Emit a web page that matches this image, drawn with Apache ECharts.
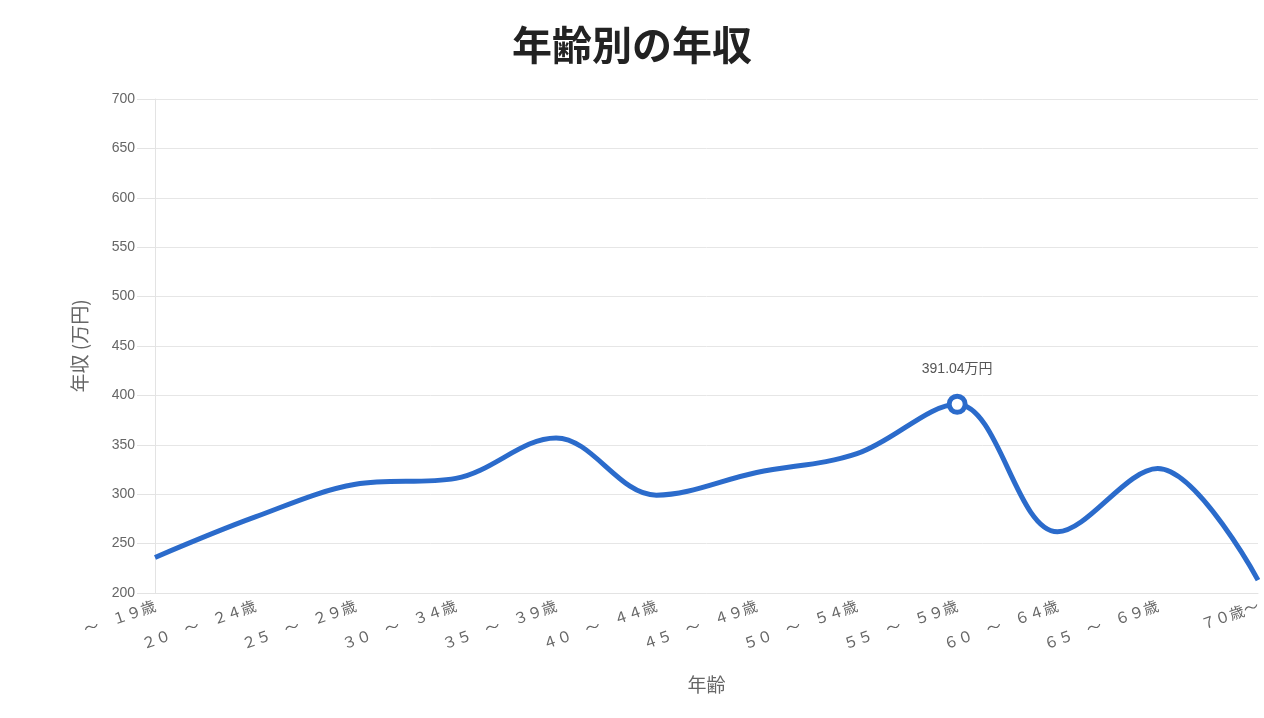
<!DOCTYPE html>
<html>
<head>
<meta charset="utf-8">
<script src="https://cdn.jsdelivr.net/npm/echarts@6/dist/echarts.min.js"></script>
<style>
  html, body { margin: 0; padding: 0; background: #fff; }
  #main { width: 1264px; height: 718px; }
</style>
</head>
<body>
<div id="main"></div>
<script>
var myChart = echarts.init(document.getElementById('main'));

// Age groups and annual income (万円)
const ages = ['～　１９歳', '２０　～　２４歳', '２５　～　２９歳', '３０　～　３４歳', '３５　～　３９歳', '４０　～　４４歳',
  '４５　～　４９歳', '５０　～　５４歳', '５５　～　５９歳', '６０　～　６４歳', '６５　～　６９歳', '７０歳～'];
const income = [236, 277, 310, 316, 357, 299, 322, 341, 391.04, 262, 326, 213];
const peakIndex = 8;

const font = '"Noto Sans CJK JP", "Noto Sans", sans-serif';
const numFont = '"Liberation Sans", Arial, "Noto Sans CJK JP", sans-serif';

var option = {
    title: {
        text: '年齢別の年収',
        left: 'center',
        top: 20,
        textStyle: {
            fontSize: 40,
            fontWeight: 'bold',
            color: '#222',
            fontFamily: font
        }
    },
    grid: {
        left: 155,
        right: 6,
        top: 99,
        bottom: 125
    },
    xAxis: {
        type: 'category',
        data: ages,
        boundaryGap: false,
        name: '年齢',
        nameLocation: 'middle',
        nameGap: 82,
        nameTextStyle: { fontSize: 19, color: '#666', fontFamily: font },
        axisLine: { lineStyle: { color: '#e3e3e3' } },
        axisTick: { show: false },
        axisLabel: {
            rotate: 19,
            color: '#666',
            fontSize: 15,
            fontFamily: font,
            margin: 12
        }
    },
    yAxis: {
        type: 'value',
        min: 200,
        max: 700,
        interval: 50,
        name: '年収 (万円)',
        nameLocation: 'middle',
        nameGap: 66,
        nameTextStyle: { fontSize: 19, color: '#666', fontFamily: font },
        axisLine: { show: true, lineStyle: { color: '#e3e3e3' } },
        axisTick: { show: true, length: 18, lineStyle: { color: '#e3e3e3' } },
        axisLabel: { color: '#666', fontSize: 14, margin: 20, fontFamily: numFont },
        splitLine: { lineStyle: { color: '#e6e6e6' } }
    },
    series: [
        {
            type: 'line',
            smooth: 0.35,
            data: income.map((v, i) => i === peakIndex ? {
                value: v,
                symbol: 'circle',
                symbolSize: 16,
                itemStyle: { color: '#fff', borderColor: '#2b6bcb', borderWidth: 5 },
                label: {
                    show: true,
                    position: 'top',
                    distance: 18,
                    formatter: '{c}万円',
                    color: '#555',
                    fontSize: 14,
                    fontFamily: numFont
                }
            } : v),
            symbol: 'none',
            lineStyle: { color: '#2b6bcb', width: 5 },
            itemStyle: { color: '#2b6bcb' }
        }
    ]
};

myChart.setOption(option);
</script>
</body>
</html>
